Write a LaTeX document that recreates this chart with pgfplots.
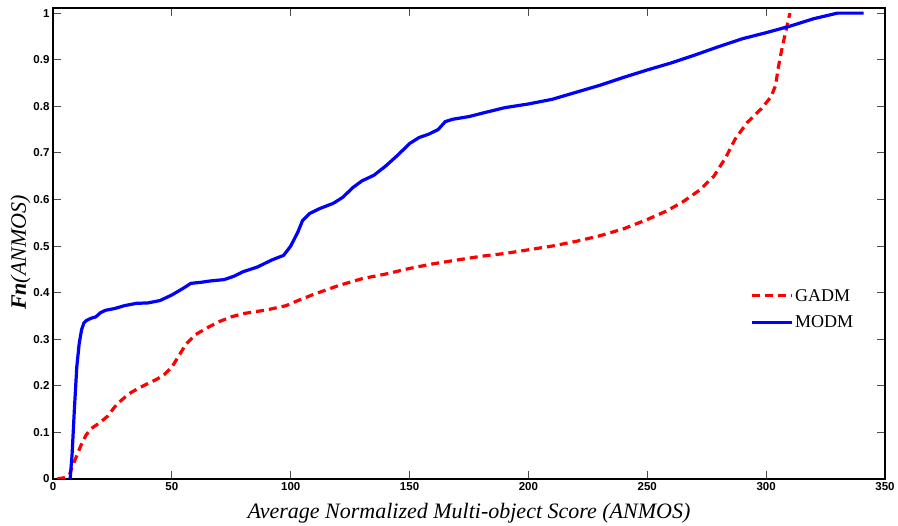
\documentclass[border=0pt]{standalone}
\usepackage{fontspec}
\setmainfont{Liberation Serif}
\setsansfont{Liberation Sans}
\usepackage{pgfplots}
\pgfplotsset{compat=1.18}

\definecolor{gadm}{RGB}{255,0,0}
\definecolor{modm}{RGB}{0,0,255}

\begin{document}
\begin{tikzpicture}
\begin{axis}[
  scale only axis,
  width=832pt, height=471pt,
  xmin=0, xmax=350, ymin=0, ymax=1.011,
  xtick={0,50,...,350},
  ytick={0,0.1,...,1},
  yticklabels={0,0.1,0.2,0.3,0.4,0.5,0.6,0.7,0.8,0.9,1},
  /pgf/number format/assume math mode=true,
  tick label style={font=\sffamily\bfseries\fontsize{11.5}{12}\selectfont},
  tick align=inside,
  major tick length=8pt,
  tick style={black!70, line width=1pt},
  axis line style={black, line width=1.6pt},
  xlabel={\itshape Average Normalized Multi-object Score (ANMOS)},
  ylabel={\itshape\textbf{Fn}(ANMOS)},
  label style={font=\fontsize{22}{24}\selectfont},
  xlabel style={yshift=-6pt},
  ylabel style={yshift=-4pt, xshift=-9pt},
  legend style={draw=none, fill=none, font=\fontsize{18}{20}\selectfont,
    at={(0.968,0.412)}, anchor=north east, row sep=9pt},
  legend cell align=left,
  legend image code/.code={\draw[#1] (0pt,0pt) -- (40pt,0pt);},
]
\addplot[gadm, line width=3.2pt, dash pattern=on 8pt off 5pt] coordinates {
(1.7,0)(5,0.003)(7,0.01)(8,0.025)(10,0.05)(12,0.075)(14,0.095)(16,0.108)
(18,0.115)(20,0.122)(23,0.135)(26,0.155)(29,0.17)(32,0.183)(36,0.195)
(40,0.205)(44,0.215)(47,0.225)(50,0.24)(53,0.265)(56,0.29)(60,0.31)
(65,0.325)(70,0.338)(75,0.348)(80,0.355)(90,0.363)(98,0.372)(104,0.385)
(110,0.397)(120,0.415)(130,0.43)(140,0.44)(150,0.452)(160,0.462)(170,0.47)
(180,0.478)(190,0.484)(200,0.492)(210,0.5)(220,0.51)(230,0.522)(240,0.537)
(250,0.557)(258,0.575)(265,0.595)(272,0.62)(278,0.65)(283,0.69)(287,0.73)
(292,0.765)(298,0.795)(302,0.82)(304,0.845)(305,0.88)(306.5,0.92)(308,0.955)
(310,1.0)
};
\addlegendentry{GADM}
\addplot[modm, line width=3.2pt] coordinates {
(7.2,0)(8,0.05)(9,0.15)(10,0.24)(11,0.29)(12,0.32)(13,0.335)(14,0.34)
(16,0.345)(18,0.348)(20,0.357)(22,0.362)(26,0.366)(30,0.372)(35,0.377)
(40,0.378)(45,0.383)(50,0.395)(55,0.41)(58,0.42)(62,0.422)(66,0.425)
(72,0.428)(76,0.435)(80,0.445)(86,0.455)(92,0.47)(97,0.48)(100,0.5)
(103,0.53)(105,0.555)(108,0.57)(112,0.58)(118,0.592)(122,0.605)(126,0.625)
(130,0.64)(135,0.652)(140,0.672)(145,0.695)(150,0.72)(154,0.733)(158,0.74)
(162,0.75)(165,0.767)(168,0.772)(175,0.778)(182,0.787)(190,0.797)(200,0.805)
(210,0.815)(220,0.83)(230,0.845)(240,0.862)(250,0.878)(260,0.893)(270,0.91)
(280,0.928)(290,0.945)(300,0.958)(310,0.972)(320,0.988)(330,1.0)(341,1.0)
};
\addlegendentry{MODM}
\coordinate (bl) at (rel axis cs:0,0);
\coordinate (tr) at (rel axis cs:1,1);
\end{axis}
\pgfresetboundingbox
\path ([shift={(-53pt,-47pt)}]bl) rectangle ([shift={(13pt,8pt)}]tr);
\end{tikzpicture}
\end{document}
